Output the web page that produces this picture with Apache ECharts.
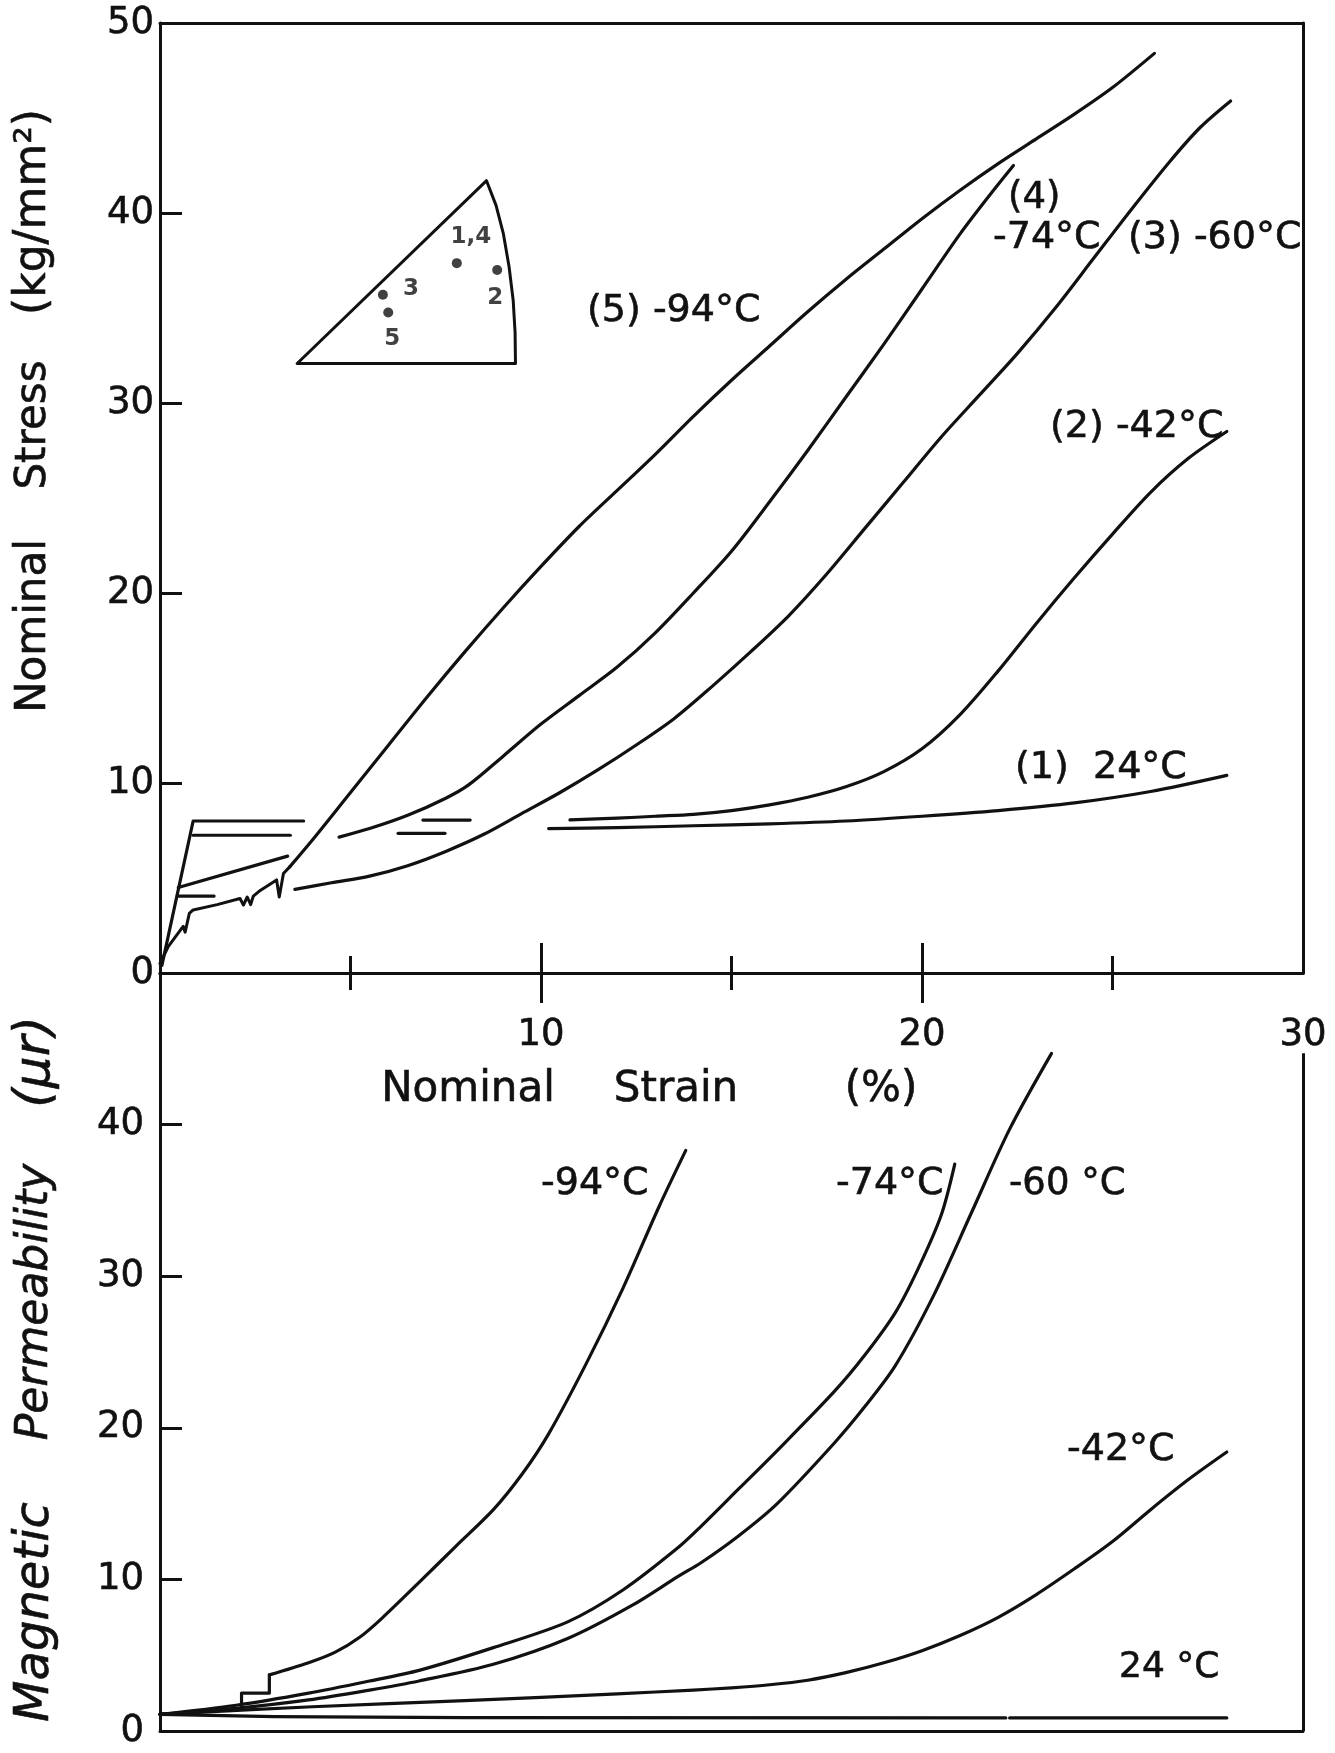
<!DOCTYPE html>
<html>
<head>
<meta charset="utf-8">
<script src="https://cdn.jsdelivr.net/npm/echarts@6/dist/echarts.min.js"></script>
<style>
  html, body { margin: 0; padding: 0; background: #fff; }
  #main { width: 1335px; height: 1753px; }
</style>
</head>
<body>
<div id="main"></div>
<script>
// axis ticks / labels
var strainMajor = [10, 20];
var strainMinor = [5, 15, 25];
var strainLabels = [10, 20, 30];
var stressTicks = [10, 20, 30, 40];
var stressLabels = [0, 10, 20, 30, 40, 50];
var permTicks = [10, 20, 30, 40];
var permLabels = [0, 10, 20, 30, 40];

// nominal stress (kg/mm2) vs nominal strain (%)
var yieldSteep = [[0.05, 0.4], [0.87, 8.0], [3.77, 8.0]];
var yieldB = [[0.87, 7.25], [3.42, 7.25]];
var yieldC = [[0.48, 4.5], [3.35, 6.15]];
var yieldD = [[0.45, 4.05], [1.42, 4.05]];
var dashE = [[6.25, 7.35], [7.48, 7.35]];
var dashF = [[6.9, 8.05], [8.14, 8.05]];
var stress94Serr = [[0, 0.5], [0.22, 1.4], [0.55, 2.3], [0.61, 2.45], [0.66, 2.15], [0.77, 3.14], [0.87, 3.32],
  [1.5, 3.6], [2.1, 3.92], [2.19, 3.58], [2.29, 4.0], [2.38, 3.6], [2.45, 4.05], [2.6, 4.3], [3.06, 4.9],
  [3.13, 4.0], [3.24, 5.24], [3.41, 5.6]];
var stress94 = [[3.41, 5.6], [4.0, 7.0], [5.0, 9.5], [6.0, 12.0], [7.0, 14.5], [8.0, 16.9], [9.0, 19.2],
  [10.0, 21.4], [11.0, 23.5], [12.0, 25.4], [13.0, 27.3], [14.0, 29.3], [15.0, 31.2], [16.0, 33.0],
  [17.0, 34.8], [18.0, 36.5], [19.0, 38.1], [20.0, 39.7], [21.0, 41.2], [22.0, 42.6], [23.0, 43.9],
  [24.0, 45.2], [25.0, 46.6], [26.1, 48.4]];
var stress74 = [[4.7, 7.15], [5.5, 7.6], [6.5, 8.3], [7.5, 9.2], [8.1, 9.9], [9.0, 11.4], [10.0, 13.1],
  [11.0, 14.6], [12.0, 16.1], [13.0, 17.9], [14.0, 20.0], [15.0, 22.2], [16.0, 24.8], [17.0, 27.5],
  [18.0, 30.3], [19.0, 33.1], [20.0, 36.0], [21.0, 38.9], [21.8, 41.0], [22.4, 42.5]];
var stress60 = [[3.54, 4.4], [4.5, 4.75], [5.5, 5.1], [6.5, 5.65], [7.5, 6.4], [8.5, 7.3], [9.5, 8.4],
  [10.5, 9.5], [11.5, 10.7], [12.5, 12.0], [13.5, 13.4], [14.5, 15.1], [15.5, 16.9], [16.5, 18.8],
  [17.5, 21.0], [18.5, 23.4], [19.5, 25.8], [20.5, 28.2], [21.5, 30.4], [22.5, 32.6], [23.5, 35.0],
  [24.5, 37.6], [25.5, 40.2], [26.5, 42.7], [27.3, 44.5], [28.1, 45.9]];
var stress42 = [[10.76, 8.06], [12, 8.15], [13, 8.25], [14, 8.35], [15, 8.55], [16, 8.85], [17, 9.25],
  [18, 9.8], [19, 10.6], [20, 11.8], [21, 13.6], [22, 15.9], [23, 18.4], [24, 20.8], [25, 23.1],
  [26, 25.3], [27, 27.1], [28, 28.5]];
var stress24 = [[10.2, 7.6], [12, 7.65], [14, 7.75], [16, 7.85], [18, 8.0], [20, 8.25], [22, 8.55],
  [24, 8.95], [26, 9.55], [28, 10.4]];

// stereographic triangle inset (upper panel data units)
var insetFrame = [[3.6, 32.08], [8.57, 41.7], [8.82, 40.4], [9.01, 38.93], [9.16, 37.2], [9.27, 35.4],
  [9.32, 33.7], [9.33, 32.08], [3.6, 32.08]];
var insetDots = [[7.79, 37.36], [8.85, 37.0], [5.85, 35.7], [5.99, 34.76]];
var insetNames = ['1,4', '2', '3', '5'];

// magnetic permeability vs nominal strain (%)
var perm94Steps = [[0, 1.1], [1, 1.3], [2.14, 1.5], [2.14, 2.5], [2.87, 2.5], [2.87, 3.7]];
var perm94 = [[2.87, 3.7], [3.9, 4.5], [4.6, 5.2], [5.25, 6.2], [5.83, 7.45], [6.8, 9.8], [7.77, 12.2],
  [8.75, 14.6], [9.52, 17.0], [10.2, 19.6], [11.18, 24.2], [12.15, 29.2], [13.1, 34.6], [13.8, 38.3]];
var perm74 = [[0, 1.1], [2, 1.7], [3.9, 2.5], [5.5, 3.3], [6.8, 4.0], [8.75, 5.5], [10.7, 7.2],
  [12.15, 9.3], [13.6, 12.1], [14.2, 13.5], [15.2, 16.0], [16.2, 18.5], [17.7, 22.4], [18.5, 24.8],
  [19.3, 27.6], [19.9, 30.5], [20.5, 34.0], [20.86, 37.4]];
var perm60 = [[0, 1.1], [2, 1.5], [3.9, 2.05], [5.5, 2.7], [6.8, 3.3], [8.75, 4.4], [10.7, 6.1],
  [12.4, 8.3], [13.6, 10.2], [14.2, 11.1], [15.2, 12.9], [16.2, 15.0], [17.7, 19.0], [18.5, 21.4],
  [19.3, 24.1], [20.3, 28.7], [21.3, 34.2], [22.3, 39.7], [23.4, 44.7]];
var perm42 = [[0, 1.1], [4, 1.6], [8, 2.0], [12, 2.45], [14, 2.7], [15, 2.85], [16, 3.05], [17, 3.35],
  [18, 3.85], [19, 4.5], [20, 5.3], [21, 6.3], [22, 7.5], [23, 9.0], [24, 10.7], [25, 12.5], [26, 14.6],
  [27, 16.6], [28, 18.4]];
var perm24a = [[0, 1.1], [3, 0.95], [8, 0.88], [22.2, 0.86]];
var perm24b = [[22.3, 0.86], [28, 0.86]];
var lowerFrame = [[30, 0], [30, 44.7]];

var ink = '#111';
var font = 'DejaVu Sans';
var chart = echarts.init(document.getElementById('main'));

function curve(data, lower, smooth, width) {
  return {
    type: 'line',
    xAxisIndex: lower ? 2 : 0,
    yAxisIndex: lower ? 2 : 0,
    data: data,
    symbol: 'none',
    smooth: smooth ? 0.3 : false,
    lineStyle: { color: ink, width: width || 3.2, cap: 'round', join: 'round' },
    silent: true,
    animation: false,
    z: 3
  };
}

var labelStyle = { fontSize: 37, color: ink, fontFamily: font, textBorderColor: ink, textBorderWidth: 0.6 };

// one axis per grid side; extra grids on the same rectangles carry the short ticks
function xAx(grid, pos, ticks, len, labels, line) {
  return {
    gridIndex: grid, type: 'value', min: 0, max: 30, interval: 10, position: pos,
    axisLine: { show: line, onZero: false, lineStyle: { color: ink, width: 3 } },
    axisTick: ticks ? { show: true, customValues: ticks, length: len, lineStyle: { color: ink, width: 3 } } : { show: false },
    axisLabel: labels ? Object.assign({ show: true, customValues: labels, margin: 44 }, labelStyle) : { show: false },
    splitLine: { show: false }
  };
}

function hiddenY(grid) {
  return { gridIndex: grid, type: 'value', min: 0, max: 50, show: false };
}

function txt(s, x, y, size, align, rot, italic) {
  return {
    type: 'text', x: x, y: y, rotation: rot || 0, z: 10,
    style: {
      text: s, fill: ink, stroke: ink, lineWidth: 0.6,
      font: (italic ? 'italic ' : '') + size + 'px "' + font + '"',
      textAlign: align || 'left', textVerticalAlign: 'middle'
    }
  };
}

var series = [
  curve(yieldSteep, false, false),
  curve(yieldB, false, false),
  curve(yieldC, false, false),
  curve(yieldD, false, false),
  curve(dashE, false, false),
  curve(dashF, false, false),
  curve(stress94Serr, false, false, 3),
  curve(stress94, false, true),
  curve(stress74, false, true),
  curve(stress60, false, true),
  curve(stress42, false, true),
  curve(stress24, false, true),
  curve(insetFrame, false, false, 3),
  {
    type: 'scatter', xAxisIndex: 0, yAxisIndex: 0, symbolSize: 10, silent: true, animation: false,
    itemStyle: { color: ink },
    data: insetDots.map(function (d, i) {
      var off = [[14, -26], [-2, 28], [28, -6], [4, 26]][i];
      return {
        value: d,
        label: {
          show: true, position: 'inside', offset: off, formatter: insetNames[i],
          fontSize: 23, fontWeight: 'bold', color: ink, fontFamily: font
        }
      };
    }),
    z: 4
  },
  curve(perm94Steps, true, false),
  curve(perm94, true, true),
  curve(perm74, true, true),
  curve(perm60, true, true),
  curve(perm42, true, true),
  curve(perm24a, true, false),
  curve(perm24b, true, false)
];

series[series.length - 1].markLine = {
  silent: true, symbol: 'none', animation: false,
  label: { show: false },
  lineStyle: { color: ink, width: 3, type: 'solid' },
  data: [[{ coord: lowerFrame[0] }, { coord: lowerFrame[1] }]]
};

var upperRect = { left: 160, top: 23, width: 1143, height: 950 };
var lowerRect = { left: 160, top: 973, width: 1143, height: 758 };

function yAx(grid, pos, ticks, labels, margin) {
  return {
    gridIndex: grid, type: 'value', min: 0, max: 50, interval: 10, position: pos,
    axisLine: { show: true, onZero: false, lineStyle: { color: ink, width: 3 } },
    axisTick: ticks ? { show: true, inside: true, length: 22, customValues: ticks, lineStyle: { color: ink, width: 3 } } : { show: false },
    axisLabel: labels ? Object.assign({ customValues: labels, margin: margin }, labelStyle) : { show: false },
    splitLine: { show: false }
  };
}

var option = {
  backgroundColor: '#fff',
  animation: false,
  grid: [upperRect, lowerRect, upperRect, lowerRect],
  xAxis: [
    xAx(0, 'bottom', strainMajor, 30, strainLabels, true),
    xAx(0, 'top', null, 0, null, true),
    xAx(1, 'top', strainMajor, 30, null, true),
    xAx(1, 'bottom', null, 0, null, true),
    xAx(2, 'bottom', strainMinor, 17, null, false),
    xAx(3, 'top', strainMinor, 17, null, false)
  ],
  yAxis: [
    yAx(0, 'left', stressTicks, stressLabels, 6),
    yAx(0, 'right', null, null, 0),
    yAx(1, 'left', permTicks, permLabels, 16),
    hiddenY(2),
    hiddenY(3)
  ],
  graphic: [
    txt('Nominal', 34, 626, 42, 'center', Math.PI / 2),
    txt('Stress', 34, 425, 42, 'center', Math.PI / 2),
    txt('(kg/mm²)', 34, 212, 44, 'center', Math.PI / 2),
    txt('Magnetic', 36, 1612, 48, 'center', Math.PI / 2, true),
    txt('Permeability', 36, 1302, 44, 'center', Math.PI / 2, true),
    txt('(μr)', 36, 1062, 50, 'center', Math.PI / 2, true),
    txt('Nominal', 468, 1090, 42, 'center'),
    txt('Strain', 676, 1090, 42, 'center'),
    txt('(%)', 881, 1090, 42, 'center'),
    txt('(5) -94°C', 587, 311, 38),
    txt('(4)', 1008, 198, 37),
    txt('-74°C', 993, 238, 38),
    txt('(3) -60°C', 1128, 238, 38),
    txt('(2) -42°C', 1050, 427, 38),
    txt('(1)  24°C', 1015, 768, 38),
    txt('-94°C', 541, 1184, 38),
    txt('-74°C', 836, 1184, 38),
    txt('-60 °C', 1009, 1184, 37),
    txt('-42°C', 1067, 1450, 38),
    txt('24 °C', 1119, 1668, 36)
  ],
  series: series
};

chart.setOption(option);
</script>
</body>
</html>
